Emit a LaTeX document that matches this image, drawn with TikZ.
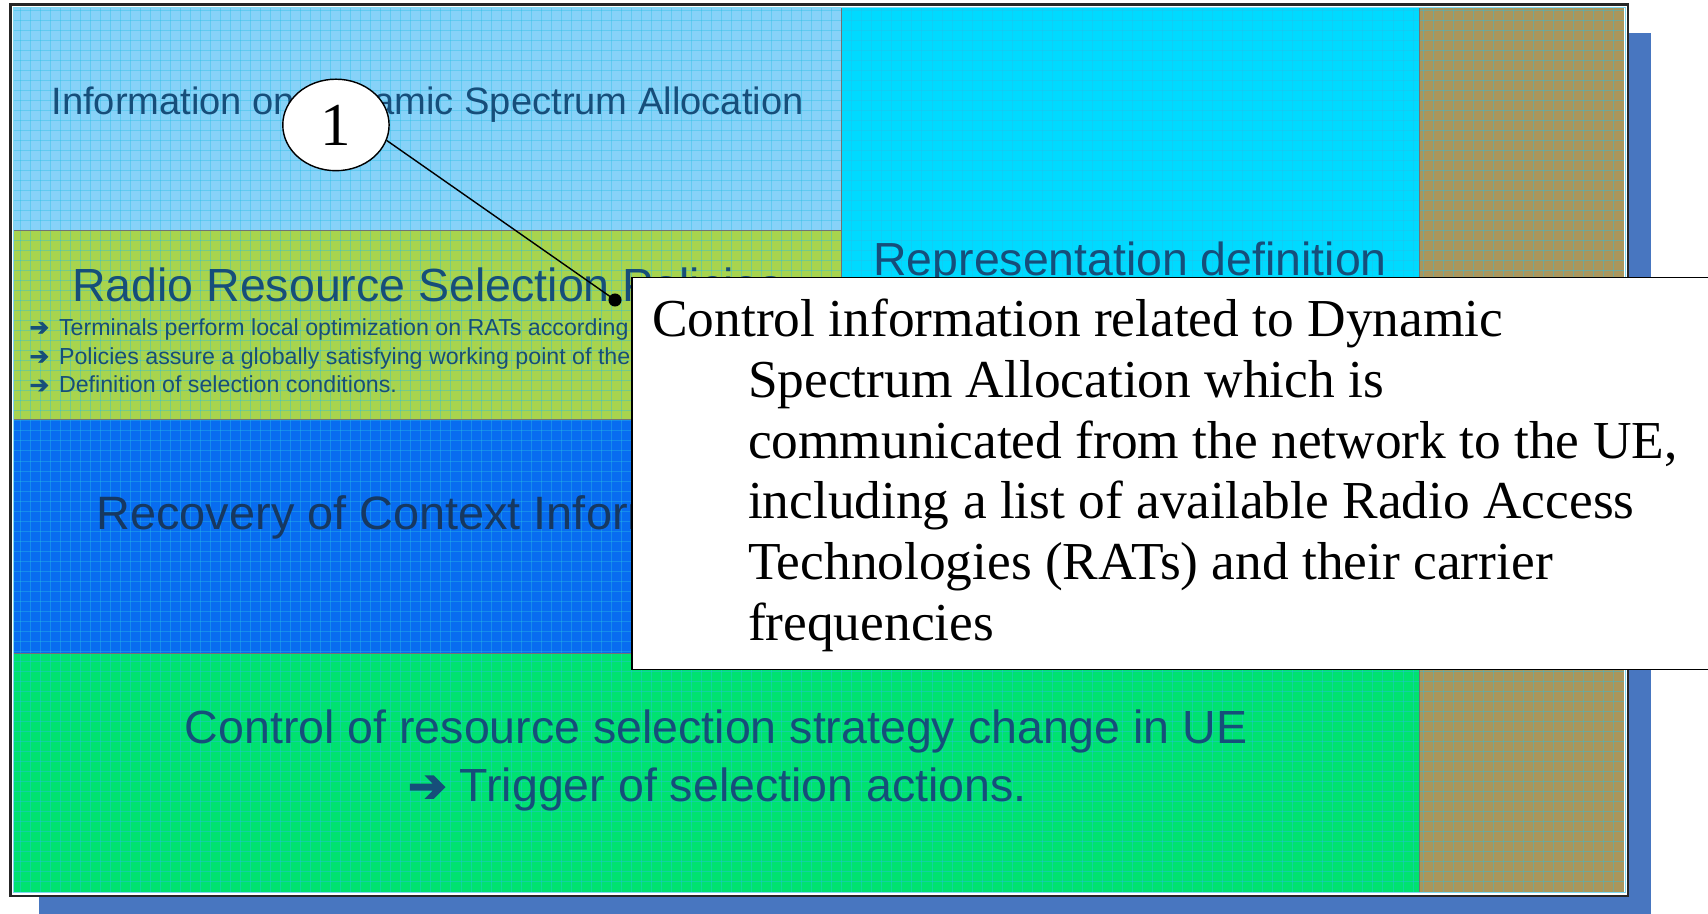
\documentclass[tikz,border=0pt]{standalone}
\usepackage{fontspec}
\setmainfont{Liberation Serif}
\newfontfamily\sansA{Liberation Sans}
\newfontfamily\symfont[FakeBold=3]{DejaVu Sans}
\usetikzlibrary{shapes.geometric}

\definecolor{shadowblue}{RGB}{72,118,192}
\definecolor{skyfill}{RGB}{135,210,248}
\definecolor{limefill}{RGB}{168,212,78}
\definecolor{bluefill}{RGB}{8,108,240}
\definecolor{cyanfill}{RGB}{0,218,255}
\definecolor{greenfill}{RGB}{0,226,112}
\definecolor{olivefill}{RGB}{170,150,92}
\definecolor{gridcyan}{RGB}{40,190,230}
\definecolor{panelink}{RGB}{22,78,122}
\definecolor{darkink}{RGB}{22,56,96}

\newcommand{\arr}{{\symfont ➔}}

\tikzset{
  panel/.style={draw=black!55, line width=0.8bp},
  gridline/.style={draw=gridcyan, opacity=0.4, line width=0.9bp},
  paneltext/.style={inner sep=0pt, text=panelink, font=\sansA},
  leader/.style={draw=black, line width=1.3bp},
  notebox/.style={draw=black, fill=white, line width=1.4bp, inner sep=0pt},
  notetext/.style={inner sep=0pt, text=black, font=\fontsize{49bp}{54bp}\selectfont},
  bullettext/.style={paneltext, font=\sansA\fontsize{21.3bp}{25bp}\selectfont},
}

\begin{document}
\begin{tikzpicture}[x=1bp,y=-1bp]
\useasboundingbox (0,0) rectangle (1568,839);
\begin{scope}
\clip (0,0) rectangle (1568,839);

% drop shadow behind the slide frame
\fill[shadowblue] (36,30) rectangle (1516,845);

% slide frame
\fill[white] (9.5,4) rectangle (1494.5,822.5);
\draw[black!85, line width=2.4bp] (9.5,4) rectangle (1494.5,822.5);

% coloured panels
\fill[skyfill]   (13,7.5)   rectangle (772,212);
\fill[limefill]  (13,212)   rectangle (772,385);
\fill[bluefill]  (13,385)   rectangle (772,600);
\fill[cyanfill]  (772,7.5)  rectangle (1303,600);
\fill[greenfill] (13,600)   rectangle (1303,818.5);
\fill[olivefill] (1303,7.5) rectangle (1491,818.5);

% fine screen grid over the panels
\foreach \gx in {18.4,27.6,...,1490} \draw[gridline] (\gx,7.5) -- (\gx,818.5);
\foreach \gy in {9.2,18.4,...,818} \draw[gridline] (13,\gy) -- (1491,\gy);

\draw[panel] (13,212) -- (772,212);
\draw[panel] (13,385) -- (772,385);
\draw[panel] (13,600) -- (1303,600);
\draw[panel] (772,7.5) -- (772,600);
\draw[panel] (1303,7.5) -- (1303,818.5);
\draw[gridcyan!60!white, line width=0.8bp] (12,6.5) rectangle (1492,819.5);

% panel captions
\node[paneltext, anchor=base, font=\sansA\fontsize{35bp}{40bp}\selectfont] (info) at (392.5,105) {Information on Dynamic Spectrum Allocation};
\node[paneltext, anchor=base west, font=\sansA\fontsize{42.7bp}{48bp}\selectfont] (rrs) at (66,277) {Radio Resource Selection Policies};
\node[bullettext, anchor=base west] (b1) at (27,307.6) {\makebox[27bp][l]{\arr}Terminals perform local optimization on RATs according};
\node[bullettext, anchor=base west] (b2) at (27,334.2) {\makebox[27bp][l]{\arr}Policies assure a globally satisfying working point of the};
\node[bullettext, anchor=base west] (b3) at (27,360.6) {\makebox[27bp][l]{\arr}Definition of selection conditions.};
\node[paneltext, text=darkink, anchor=base west, font=\sansA\fontsize{43bp}{48bp}\selectfont] (rec) at (88.5,486.5) {Recovery of Context Information};
\node[paneltext, anchor=base, font=\sansA\fontsize{42.6bp}{48bp}\selectfont] (repr) at (1037.5,253) {Representation definition};
\node[paneltext, anchor=base, font=\sansA\fontsize{42.7bp}{48bp}\selectfont] (ctrl) at (657.5,683) {Control of resource selection strategy change in UE};
\node[paneltext, anchor=base, font=\sansA\fontsize{42.7bp}{48bp}\selectfont] (trig) at (658.5,736) {\arr\ Trigger of selection actions.};

% numbered marker and its leader to the note
\node[ellipse, draw=black, fill=white, line width=1.3bp, minimum width=97.6bp, minimum height=84bp, inner sep=0pt, font=\fontsize{56bp}{60bp}\selectfont] (num) at (308.4,114.7) {1};
\node[circle, fill=black, minimum size=12bp, inner sep=0pt] (tip) at (564.6,275.4) {};
\draw[leader] (num.-17.5) -- (tip.center);

% explanatory note
\node[notebox, anchor=north west, minimum width=1010bp, minimum height=360bp] (note) at (579.5,254) {};
\node[notetext, anchor=base west] (n1) at (598.6,309) {Control information related to Dynamic};
\node[notetext, anchor=base west] (n2) at (686.5,364.8) {Spectrum Allocation which is};
\node[notetext, anchor=base west] (n3) at (686.5,420.6) {communicated from the network to the UE,};
\node[notetext, anchor=base west] (n4) at (686.5,476.4) {including a list of available Radio Access};
\node[notetext, anchor=base west] (n5) at (686.5,532.2) {Technologies (RATs) and their carrier};
\node[notetext, anchor=base west] (n6) at (686.5,588) {frequencies};
\end{scope}
\end{tikzpicture}
\end{document}
